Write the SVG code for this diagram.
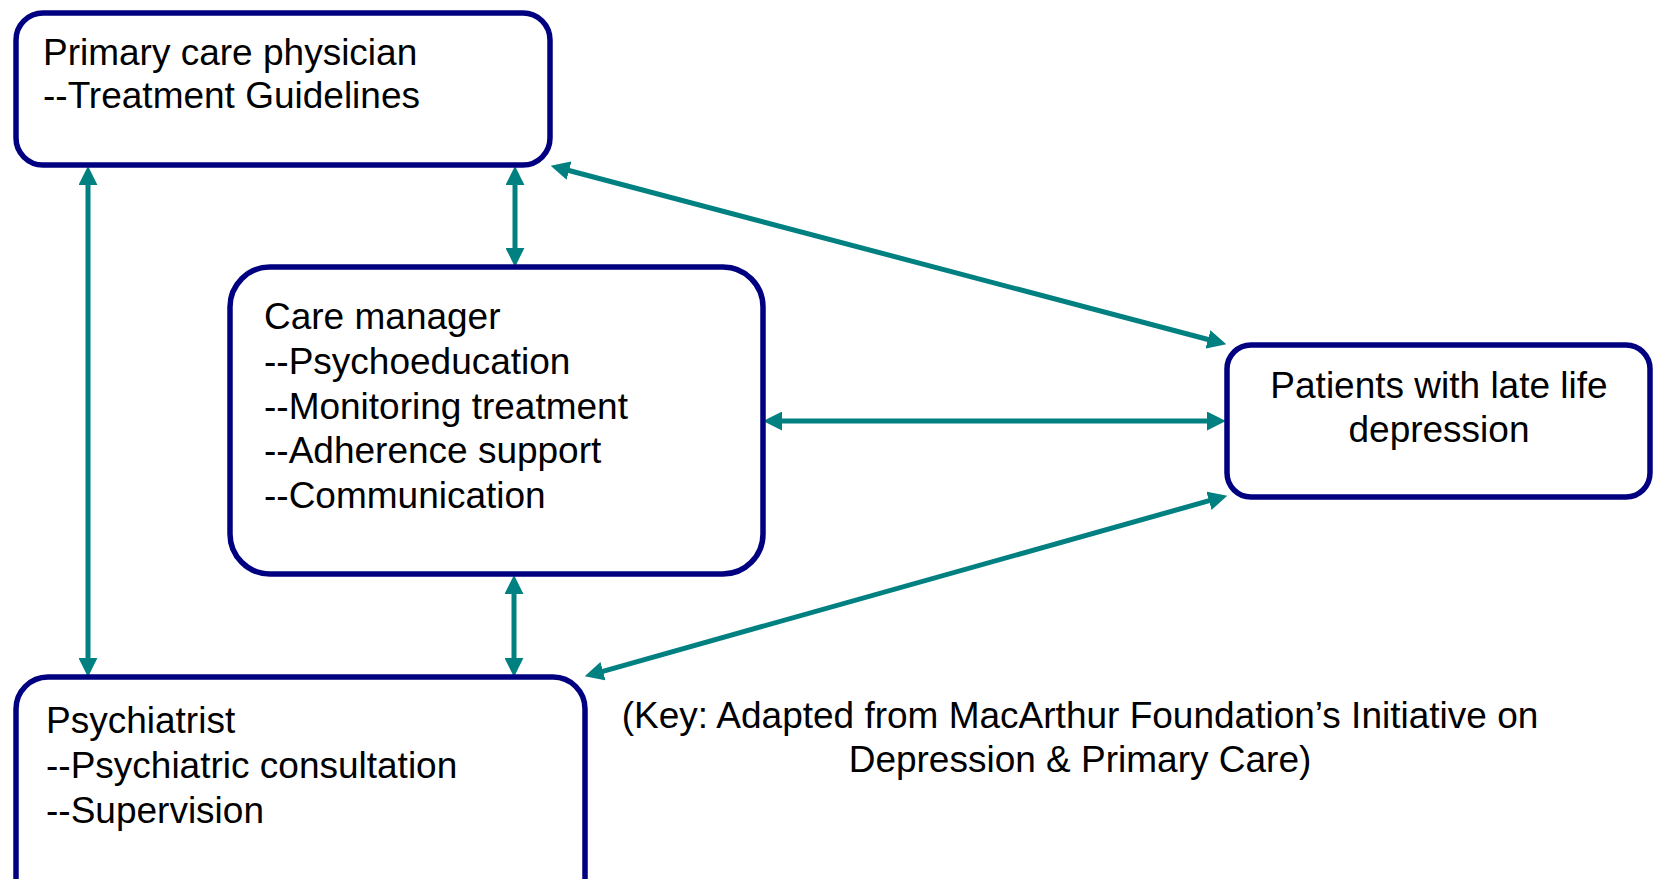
<svg xmlns="http://www.w3.org/2000/svg" width="1653" height="879" viewBox="0 0 1653 879">
<style>
.box{fill:#ffffff;stroke:#000080;stroke-width:5.5}
.t{font-family:"Liberation Sans",Arial,sans-serif;font-size:37px;fill:#000000}
.c{stroke:#008080;stroke-width:5;fill:none;marker-start:url(#ah);marker-end:url(#ah)}
</style>
<defs>
<marker id="ah" markerUnits="userSpaceOnUse" markerWidth="19" markerHeight="19" refX="2" refY="9" orient="auto-start-reverse" viewBox="0 0 18 18">
<path d="M0,0 L18,9 L0,18 z" fill="#008080"/>
</marker>
</defs>
<rect width="1653" height="879" fill="#ffffff"/>
<g id="connectors">
<line class="c" x1="88" y1="183" x2="88" y2="660"/>
<line class="c" x1="515" y1="183" x2="515" y2="250"/>
<line class="c" x1="514" y1="592" x2="514" y2="660"/>
<line class="c" x1="780" y1="421" x2="1209" y2="421"/>
<line class="c" x1="567" y1="170" x2="1210" y2="340"/>
<line class="c" x1="601" y1="671.8" x2="1211" y2="500.2"/>
</g>
<g id="pcp">
<rect class="box" x="16" y="13" width="534" height="152" rx="27" ry="27"/>
<text class="t" x="43" y="65">Primary care physician</text>
<text class="t" x="43" y="108">--Treatment Guidelines</text>
</g>
<g id="care-manager">
<rect class="box" x="230" y="267" width="533" height="307" rx="40" ry="40"/>
<text class="t" x="264" y="329">Care manager</text>
<text class="t" x="264" y="374">--Psychoeducation</text>
<text class="t" x="264" y="418.5">--Monitoring treatment</text>
<text class="t" x="264" y="463">--Adherence support</text>
<text class="t" x="264" y="508">--Communication</text>
</g>
<g id="patients">
<rect class="box" x="1227" y="345" width="423" height="152" rx="24" ry="24"/>
<text class="t" x="1439" y="398" text-anchor="middle">Patients with late life</text>
<text class="t" x="1439" y="442" text-anchor="middle">depression</text>
</g>
<g id="psychiatrist">
<rect class="box" x="16" y="677" width="569" height="240" rx="32" ry="32"/>
<text class="t" x="46" y="733">Psychiatrist</text>
<text class="t" x="46" y="778">--Psychiatric consultation</text>
<text class="t" x="46" y="823">--Supervision</text>
</g>
<g id="key">
<text class="t" x="1080" y="728" text-anchor="middle">(Key: Adapted from MacArthur Foundation’s Initiative on</text>
<text class="t" x="1080" y="772" text-anchor="middle">Depression &amp; Primary Care)</text>
</g>
</svg>
